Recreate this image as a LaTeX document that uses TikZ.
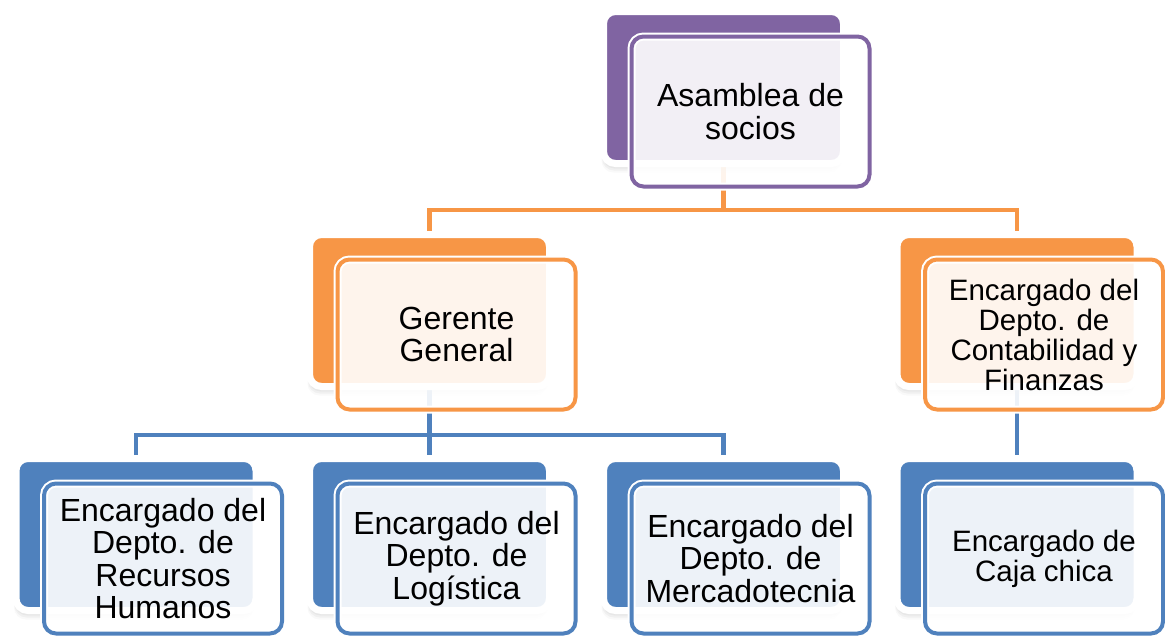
\documentclass[tikz,border=0pt]{standalone}
\usepackage{fontspec}
\setmainfont{Liberation Sans}
\usetikzlibrary{shadows}
\definecolor{cpurple}{HTML}{8064A2}
\definecolor{corange}{HTML}{F79646}
\definecolor{cblue}{HTML}{4F81BD}
\tikzset{
  backbox/.style={draw=white, line width=7pt, fill=#1, rounded corners=12pt,
    minimum width=240pt, minimum height=152pt, outer sep=0pt, inner sep=0pt,
    drop shadow={opacity=0.05, shadow xshift=-2pt, shadow yshift=-9pt},
    drop shadow={opacity=0.07, shadow xshift=-1.5pt, shadow yshift=-7pt},
    drop shadow={opacity=0.08, shadow xshift=-1pt, shadow yshift=-5pt}},
  frontbox/.style={draw=#1, line width=4pt, fill=white, fill opacity=0.9, text opacity=1,
    rounded corners=12pt, minimum width=238pt, minimum height=150pt, align=center,
    inner sep=0pt, outer sep=0pt, font=\fontsize{32}{32.6}\selectfont,
    preaction={draw=white, line width=8pt}},
  smallfont/.style={font=\fontsize{29.5}{30}\selectfont},
  conn/.style={draw=#1, line width=4.5pt}
}
\begin{document}
\begin{tikzpicture}[x=1pt,y=-1pt]
\useasboundingbox (0,0) rectangle (1165,635);
% junction coordinates
\coordinate (j1) at (723.5,210);
\coordinate (j2) at (429.5,435);
% back box positions
\coordinate (p1) at (723.5,87.5);
\coordinate (p2) at (429.5,310.5);
\coordinate (p3) at (1017,310.5);
\coordinate (p4) at (136,534.5);
\coordinate (p5) at (429.5,534.5);
\coordinate (p6) at (723.5,534.5);
\coordinate (p7) at (1017,534.5);
% connectors (behind)
\draw[conn=corange] (p1) -- (j1) -| (p2);
\draw[conn=corange] (j1) -| (p3);
\draw[conn=cblue] (p2) -- (j2) -| (p4);
\draw[conn=cblue] (j2) -| (p6);
\draw[conn=cblue] (j2) -- (p5);
\draw[conn=cblue] (p3) -- (p7);
% nodes
\node[backbox=cpurple] (b1) at (p1) {};
\node[frontbox=cpurple] (f1) at ([shift={(27,24)}]b1.center) {Asamblea de\\socios};
\node[backbox=corange] (b2) at (p2) {};
\node[frontbox=corange] (f2) at ([shift={(27,24)}]b2.center) {Gerente\\General};
\node[backbox=corange] (b3) at (p3) {};
\node[frontbox=corange, smallfont] (f3) at ([shift={(27,24)}]b3.center) {Encargado del\\Depto. de\\Contabilidad y\\Finanzas};
\node[backbox=cblue] (b4) at (p4) {};
\node[frontbox=cblue] (f4) at ([shift={(27,24)}]b4.center) {Encargado del\\Depto. de\\Recursos\\Humanos};
\node[backbox=cblue] (b5) at (p5) {};
\node[frontbox=cblue] (f5) at ([shift={(27,24)}]b5.center) {Encargado del\\Depto. de\\Logística};
\node[backbox=cblue] (b6) at (p6) {};
\node[frontbox=cblue] (f6) at ([shift={(27,24)}]b6.center) {Encargado del\\Depto. de\\Mercadotecnia};
\node[backbox=cblue] (b7) at (p7) {};
\node[frontbox=cblue, smallfont] (f7) at ([shift={(27,24)}]b7.center) {Encargado de\\Caja chica};
\end{tikzpicture}
\end{document}
